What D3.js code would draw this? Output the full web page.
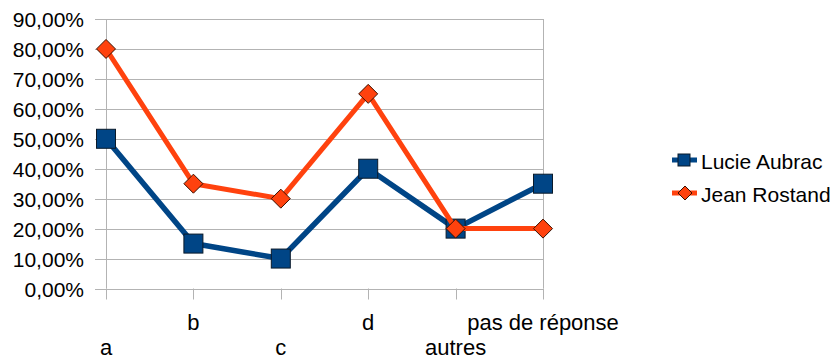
<!DOCTYPE html>
<head>
  <meta charset="utf-8">
  <script src="https://d3js.org/d3.v7.min.js"></script>
  <style>
    body { margin: 0; background: #fff; }
    text { font-family: "Liberation Sans", Arial, sans-serif; font-size: 21px; fill: #000; }
    .xlab text { font-size: 22px; }
    .grid line { stroke: #b3b3b3; stroke-width: 1px; }
  </style>
</head>
<body>
  <script>
    var categories = ["a", "b", "c", "d", "autres", "pas de réponse"];
    var lucie = [0.50, 0.15, 0.10, 0.40, 0.20, 0.35];
    var jean = [0.80, 0.35, 0.30, 0.65, 0.20, 0.20];
    var yTicks = [0, 0.1, 0.2, 0.3, 0.4, 0.5, 0.6, 0.7, 0.8, 0.9];
    var seriesNames = ["Lucie Aubrac", "Jean Rostand"];

    var W = 833, H = 360;
    var plotLeft = 106, plotRight = 543, plotTop = 19, plotBottom = 288.5;

    var svg = d3.select("body").append("svg")
      .attr("width", W).attr("height", H);

    var x = d3.scalePoint().domain(categories).range([plotLeft, plotRight]);
    var y = d3.scaleLinear().domain([0, 0.9]).range([plotBottom, plotTop]);
    var fmt = function(v) { return d3.format(".2f")(v * 100).replace(".", ",") + "%"; };

    // horizontal gridlines + left tick marks
    var grid = svg.append("g").attr("class", "grid");
    grid.selectAll(".h").data(yTicks).enter().append("line")
      .attr("x1", plotLeft - 11).attr("x2", plotRight + 0.5)
      .attr("y1", function(d) { return Math.round(y(d)) + 0.5; })
      .attr("y2", function(d) { return Math.round(y(d)) + 0.5; });

    // left and right borders
    grid.selectAll(".v").data([plotLeft, plotRight]).enter().append("line")
      .attr("x1", function(d) { return d + 0.5; }).attr("x2", function(d) { return d + 0.5; })
      .attr("y1", plotTop).attr("y2", plotBottom);

    // x tick marks
    grid.selectAll(".xt").data(categories).enter().append("line")
      .attr("x1", function(d) { return Math.round(x(d)) + 0.5; })
      .attr("x2", function(d) { return Math.round(x(d)) + 0.5; })
      .attr("y1", plotBottom).attr("y2", plotBottom + 11);

    // y labels
    svg.append("g").selectAll("text").data(yTicks).enter().append("text")
      .attr("x", 84).attr("y", function(d) { return y(d) + 8; })
      .attr("text-anchor", "end")
      .text(fmt);

    // x labels, staggered
    svg.append("g").attr("class", "xlab").selectAll("text").data(categories).enter().append("text")
      .attr("x", function(d) { return x(d); })
      .attr("y", function(d, i) { return i % 2 ? 330 : 355; })
      .attr("text-anchor", "middle")
      .text(function(d) { return d; });

    var line = d3.line()
      .x(function(d, i) { return x(categories[i]); })
      .y(function(d) { return y(d); });

    var blue = "#004586", orange = "#ff420e";

    // Lucie Aubrac
    svg.append("path").datum(lucie)
      .attr("d", line).attr("fill", "none")
      .attr("stroke", blue).attr("stroke-width", 5.5).attr("stroke-linejoin", "round");
    svg.append("g").selectAll("rect").data(lucie).enter().append("rect")
      .attr("x", function(d, i) { return x(categories[i]) - 9.5; })
      .attr("y", function(d) { return y(d) - 9.5; })
      .attr("width", 19).attr("height", 19)
      .attr("fill", blue).attr("stroke", "#0a1a2a").attr("stroke-width", 1);

    // Jean Rostand
    svg.append("path").datum(jean)
      .attr("d", line).attr("fill", "none")
      .attr("stroke", orange).attr("stroke-width", 5).attr("stroke-linejoin", "round");
    var diamond = "M0,-9.5L9.5,0L0,9.5L-9.5,0Z";
    svg.append("g").selectAll("path").data(jean).enter().append("path")
      .attr("d", diamond)
      .attr("transform", function(d, i) { return "translate(" + x(categories[i]) + "," + y(d) + ")"; })
      .attr("fill", orange).attr("stroke", "#3a1000").attr("stroke-width", 1);

    // legend
    var legend = svg.append("g");
    var ly = [160, 193];
    var colors = [blue, orange];
    seriesNames.forEach(function(name, i) {
      var g = legend.append("g").attr("transform", "translate(0," + ly[i] + ")");
      g.append("line").attr("x1", 672).attr("x2", 697).attr("y1", 0).attr("y2", 0)
        .attr("stroke", colors[i]).attr("stroke-width", 5);
      if (i === 0) {
        g.append("rect").attr("x", 678).attr("y", -6).attr("width", 12).attr("height", 12)
          .attr("fill", blue).attr("stroke", "#0a1a2a");
      } else {
        g.append("path").attr("d", "M0,-7L7,0L0,7L-7,0Z").attr("transform", "translate(685,0)")
          .attr("fill", orange).attr("stroke", "#3a1000");
      }
      g.append("text").attr("x", 701).attr("y", 9).text(name);
    });
  </script>
</body>
